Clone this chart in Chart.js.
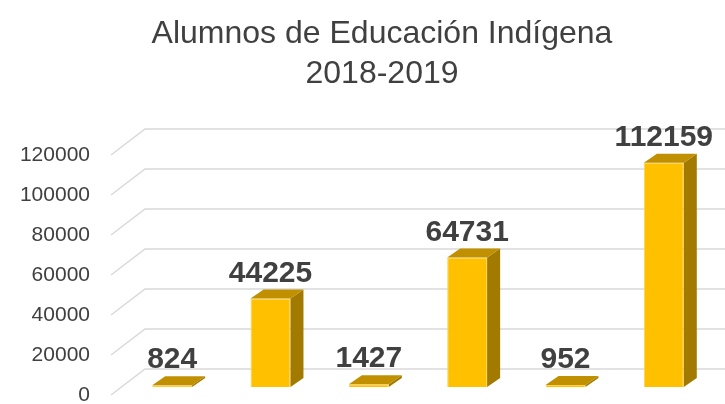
<!DOCTYPE html>
<html>
<head>
<meta charset="utf-8">
<script src="https://cdn.jsdelivr.net/npm/chart.js@4.4.0/dist/chart.umd.min.js"></script>
<style>
  html, body { margin: 0; padding: 0; background: #fff; }
  #wrap { width: 725px; height: 404px; }
</style>
</head>
<body>
<div id="wrap"><canvas id="alumnos-chart"></canvas></div>
<script>
// Alumnos de Educación Indígena 2018-2019
const categories = ['1', '2', '3', '4', '5', '6'];
const alumnos    = [824, 44225, 1427, 64731, 952, 112159];
const yTicks     = [0, 20000, 40000, 60000, 80000, 100000, 120000];
const titleLines = ['Alumnos de Educación Indígena', '2018-2019'];

const TEXT_COLOR = '#404040';
const GRID_COLOR = '#d9d9d9';
const FONT = '"Liberation Sans", Arial, sans-serif';

// depth of each bar (top/side faces)
const BAR_DX = 13, BAR_DY = -9;

// two-line title, centred over the plot
const titlePlugin = {
    id: 'chartTitle',
    afterDraw(chart) {
        const { ctx } = chart;
        ctx.save();
        ctx.fillStyle = TEXT_COLOR;
        ctx.font = '32px ' + FONT;
        ctx.textAlign = 'center';
        ctx.textBaseline = 'alphabetic';
        titleLines.forEach((line, i) => ctx.fillText(line, 382, 43 + i * 40));
        ctx.restore();
    }
};

// perspective gridlines: front edge -> back wall
const gridPlugin = {
    id: 'perspectiveGrid',
    beforeDatasetsDraw(chart) {
        const { ctx, chartArea, scales: { y } } = chart;
        ctx.save();
        ctx.strokeStyle = GRID_COLOR;
        ctx.lineWidth = 1.5;
        yTicks.forEach(v => {
            const py = y.getPixelForValue(v);
            ctx.beginPath();
            ctx.moveTo(chartArea.left - 12, py + 8);
            ctx.lineTo(chartArea.left + 22, py - 18);
            ctx.lineTo(chart.width, py - 18);
            ctx.stroke();
        });
        ctx.restore();
    }
};

// side + top faces, then the value labels
const bar3dPlugin = {
    id: 'bar3d',
    afterDatasetsDraw(chart) {
        const { ctx } = chart;
        const meta = chart.getDatasetMeta(0);
        ctx.save();
        meta.data.forEach((bar, i) => {
            const { x, y, base, width } = bar.getProps(['x', 'y', 'base', 'width'], true);
            const l = x - width / 2, r = x + width / 2;

            ctx.fillStyle = '#a27a00';
            ctx.beginPath();
            ctx.moveTo(r, y);
            ctx.lineTo(r + BAR_DX, y + BAR_DY);
            ctx.lineTo(r + BAR_DX, base + BAR_DY);
            ctx.lineTo(r, base);
            ctx.closePath();
            ctx.fill();

            ctx.fillStyle = '#c09000';
            ctx.beginPath();
            ctx.moveTo(l, y);
            ctx.lineTo(r, y);
            ctx.lineTo(r + BAR_DX, y + BAR_DY);
            ctx.lineTo(l + BAR_DX, y + BAR_DY);
            ctx.closePath();
            ctx.fill();

            ctx.fillStyle = TEXT_COLOR;
            ctx.font = 'bold 30px ' + FONT;
            ctx.textAlign = 'center';
            ctx.textBaseline = 'alphabetic';
            ctx.fillText(String(alumnos[i]), x, y - 17);
        });
        ctx.restore();
    }
};

new Chart(document.getElementById('alumnos-chart'), {
    type: 'bar',
    data: {
        labels: categories,
        datasets: [{
            data: alumnos,
            backgroundColor: '#ffc000',
            borderColor: '#ffd24d',
            borderWidth: 1,
            categoryPercentage: 1,
            barPercentage: 0.406
        }]
    },
    options: {
        responsive: true,
        maintainAspectRatio: false,
        animation: false,
        layout: { padding: { left: 0, right: 12, top: 147, bottom: 17 } },
        plugins: {
            legend: { display: false },
            tooltip: { enabled: false },
            title: { display: false }
        },
        scales: {
            x: { display: false },
            y: {
                min: 0,
                max: 120000,
                afterBuildTicks: scale => { scale.ticks = yTicks.map(v => ({ value: v })); },
                afterFit: scale => {
                    scale.width = 123;
                    scale.paddingTop = 0;
                    scale.paddingBottom = 0;
                },
                border: { display: false },
                grid: { display: false, drawTicks: false },
                ticks: {
                    color: TEXT_COLOR,
                    padding: 33,
                    labelOffset: 8,
                    font: { family: FONT, size: 21 },
                    callback: v => String(v)
                }
            }
        }
    },
    plugins: [gridPlugin, bar3dPlugin, titlePlugin]
});
</script>
</body>
</html>
